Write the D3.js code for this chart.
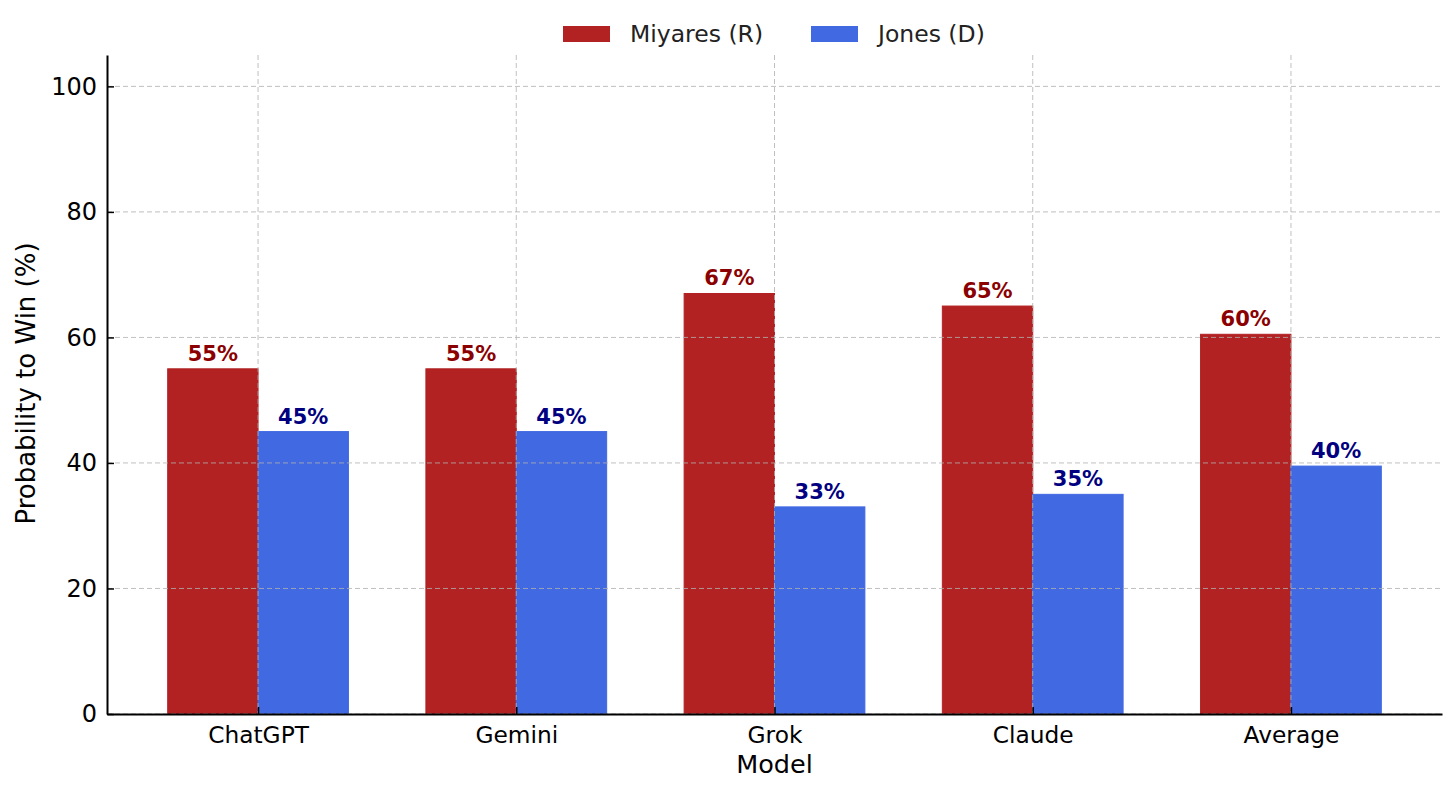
<!DOCTYPE html>
<html>
<head>
<meta charset="utf-8">
<script src="https://cdn.jsdelivr.net/npm/d3@7"></script>
<style>
  html, body { margin: 0; padding: 0; background: #fff; }
  svg { display: block; font-family: "DejaVu Sans", sans-serif; }
</style>
</head>
<body>
<svg id="chart"></svg>
<script>
const models = ['ChatGPT', 'Gemini', 'Grok', 'Claude', 'Average']
const miyares = [55, 55, 67, 65, 60.5]
const jones = [45, 45, 33, 35, 39.5]
const yTicks = [0, 20, 40, 60, 80, 100]
const seriesNames = ['Miyares (R)', 'Jones (D)']
const seriesColors = ['#b22222', '#4169e1']
const labelColors = ['#8b0000', '#000080']

const W = 1456, H = 794
const mLeft = 107, mRight = 1442, mTop = 55, mBottom = 714

const svg = d3.select('#chart').attr('width', W).attr('height', H)

// python-style rounding (half to even), so 60.5 -> 60 and 39.5 -> 40
function roundEven(v) {
  const f = Math.floor(v)
  const diff = v - f
  if (Math.abs(diff - 0.5) < 1e-9) return f % 2 === 0 ? f : f + 1
  return Math.round(v)
}

// matplotlib-style continuous x: bars of width 0.35 around each index
const barW = 0.35
const x = d3.scaleLinear().domain([-0.585, models.length - 1 + 0.585]).range([mLeft, mRight])
const y = d3.scaleLinear().domain([0, 105]).range([mBottom, mTop])

const series = [miyares, jones]

// bars
series.forEach((vals, s) => {
  svg.append('g').selectAll('rect')
    .data(vals)
    .join('rect')
    .attr('x', (d, i) => s === 0 ? x(i - barW) : x(i))
    .attr('width', x(barW) - x(0))
    .attr('y', d => y(d))
    .attr('height', d => y(0) - y(d))
    .attr('fill', seriesColors[s])
    .attr('stroke', seriesColors[s])
    .attr('stroke-width', 1)
})

// grid on top, dashed
const grid = svg.append('g').attr('stroke', '#b0b0b0').attr('stroke-opacity', 0.8)
  .attr('stroke-dasharray', '5,3').attr('stroke-width', 1)
grid.selectAll('.hg').data(yTicks).join('line')
  .attr('x1', mLeft).attr('x2', mRight)
  .attr('y1', d => y(d)).attr('y2', d => y(d))
grid.selectAll('.vg').data(models).join('line')
  .attr('x1', (d, i) => x(i)).attr('x2', (d, i) => x(i))
  .attr('y1', mTop).attr('y2', mBottom)

// bar value labels
series.forEach((vals, s) => {
  svg.append('g').selectAll('text')
    .data(vals)
    .join('text')
    .attr('x', (d, i) => x(i + (s === 0 ? -barW / 2 : barW / 2)))
    .attr('y', d => y(d) - 8)
    .attr('text-anchor', 'middle')
    .attr('font-size', 21)
    .attr('font-weight', 'bold')
    .attr('fill', labelColors[s])
    .text(d => roundEven(d) + '%')
})

// axes
const yAxis = d3.axisLeft(y).tickValues(yTicks).tickSizeInner(-7).tickSizeOuter(0).tickPadding(10)
const gy = svg.append('g').attr('transform', `translate(${mLeft},0)`).call(yAxis)
gy.select('.domain').attr('stroke', '#000').attr('stroke-width', 2)
gy.selectAll('.tick line').attr('stroke', '#000').attr('stroke-width', 1.5)
gy.selectAll('.tick text').attr('font-size', 24).attr('fill', '#000')
  .attr('font-family', '"DejaVu Sans", sans-serif')

const xAxis = d3.axisBottom(x).tickValues(d3.range(models.length))
  .tickFormat(i => models[i]).tickSizeInner(-7).tickSizeOuter(0).tickPadding(12)
const gx = svg.append('g').attr('transform', `translate(0,${mBottom})`).call(xAxis)
gx.select('.domain').attr('stroke', '#000').attr('stroke-width', 2)
gx.selectAll('.tick line').attr('stroke', '#000').attr('stroke-width', 1.5)
gx.selectAll('.tick text').attr('font-size', 23.3).attr('fill', '#000')
  .attr('font-family', '"DejaVu Sans", sans-serif')

// axis titles
svg.append('text')
  .attr('x', (mLeft + mRight) / 2).attr('y', 773)
  .attr('text-anchor', 'middle').attr('font-size', 25.5)
  .text('Model')
svg.append('text')
  .attr('transform', `translate(35,${(mTop + mBottom) / 2 - 1}) rotate(-90)`)
  .attr('text-anchor', 'middle').attr('font-size', 26)
  .text('Probability to Win (%)')

// legend
const legendX = [563, 811]
const lg = svg.append('g')
lg.selectAll('rect').data(seriesNames).join('rect')
  .attr('x', (d, i) => legendX[i]).attr('y', 26)
  .attr('width', 47).attr('height', 16)
  .attr('fill', (d, i) => seriesColors[i])
lg.selectAll('text').data(seriesNames).join('text')
  .attr('x', (d, i) => legendX[i] + 67).attr('y', 42)
  .attr('font-size', 23.5).attr('fill', '#222')
  .text(d => d)
</script>
</body>
</html>
